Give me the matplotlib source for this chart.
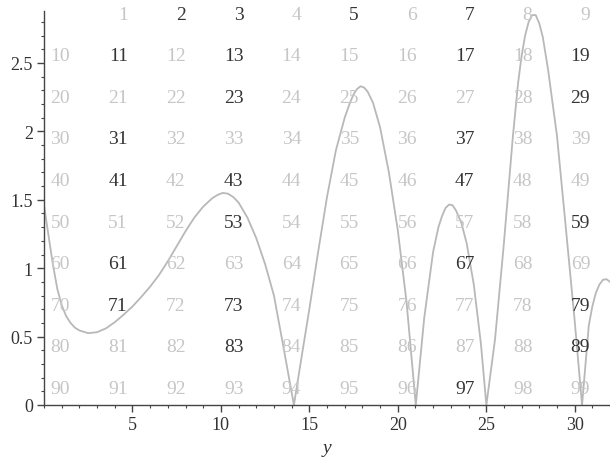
import numpy as np
import matplotlib
matplotlib.use("Agg")
import matplotlib.pyplot as plt
from matplotlib.ticker import MultipleLocator

# |zeta(1/2 + i y)|
y_vals = [0.0, 0.15, 0.3, 0.5, 0.75, 1.0, 1.25, 1.5, 1.75, 2.0, 2.5, 3.0,
          3.5, 4.0, 4.5, 5.0, 5.5, 6.0, 6.5, 7.0, 7.5, 8.0, 8.5, 9.0,
          9.5, 9.8, 10.1, 10.4, 10.7, 11.0, 11.5, 12.0, 12.5, 13.0, 13.5,
          14.13, 14.5, 15.0, 15.5, 16.0, 16.5, 17.0, 17.3, 17.5, 17.7,
          17.9, 18.1, 18.3, 18.6, 19.0, 19.5, 20.0, 20.5, 21.02, 21.5,
          22.0, 22.3, 22.5, 22.7, 22.9, 23.1, 23.3, 23.6, 23.9, 24.3,
          24.7, 25.01, 25.5, 26.0, 26.5, 26.8, 27.0, 27.2, 27.4, 27.6,
          27.8, 28.0, 28.2, 28.5, 29.0, 29.5, 30.0, 30.42, 30.8, 31.0,
          31.2, 31.4, 31.6, 31.8, 32.0]
zeta_abs = [1.46, 1.33, 1.20, 1.03, 0.85, 0.73, 0.65, 0.60, 0.565, 0.545,
            0.525, 0.532, 0.56, 0.605, 0.66, 0.72, 0.79, 0.865, 0.95, 1.05,
            1.16, 1.27, 1.37, 1.45, 1.51, 1.535, 1.55, 1.545, 1.52, 1.48,
            1.37, 1.22, 1.03, 0.80, 0.45, 0.0, 0.30, 0.70, 1.12, 1.52,
            1.86, 2.10, 2.21, 2.27, 2.31, 2.33, 2.32, 2.29, 2.21, 2.03,
            1.70, 1.28, 0.75, 0.0, 0.64, 1.12, 1.30, 1.38, 1.44, 1.465,
            1.46, 1.42, 1.33, 1.18, 0.88, 0.45, 0.0, 0.48, 1.18, 1.95,
            2.35, 2.55, 2.70, 2.80, 2.85, 2.85, 2.79, 2.69, 2.45, 1.97,
            1.30, 0.62, 0.0, 0.58, 0.72, 0.82, 0.88, 0.915, 0.92, 0.90]

# number table laid over the plot
numbers = list(range(1, 100))
primes = [2, 3, 5, 7, 11, 13, 17, 19, 23, 29, 31, 37, 41, 43, 47, 53, 59,
          61, 67, 71, 73, 79, 83, 89, 97]

W, H = 610, 464
fig = plt.figure(figsize=(W / 100, H / 100), dpi=100)
ax = fig.add_axes([44 / W, 58 / H, 566 / W, 394 / H])

ax.plot(y_vals, zeta_abs, color="#b8b8b8", lw=1.3, zorder=2,
        solid_joinstyle="round")

ax.set_xlim(0, 32)
ax.set_ylim(0, 2.88)
ax.xaxis.set_minor_locator(MultipleLocator(1))
ax.yaxis.set_minor_locator(MultipleLocator(0.1))
ax.set_xticks([5, 10, 15, 20, 25, 30])
ax.set_yticks([0, 0.5, 1, 1.5, 2, 2.5])
ax.set_yticklabels(["0", "0.5", "1", "1.5", "2", "2.5"])
for s in ["top", "right"]:
    ax.spines[s].set_visible(False)
for s in ["left", "bottom"]:
    ax.spines[s].set_color("#444444")
    ax.spines[s].set_linewidth(1.0)
ax.tick_params(which="major", direction="out", length=5, width=1,
               color="#444444", labelsize=13, labelcolor="#333333", pad=3)
ax.tick_params(which="minor", direction="out", length=2.5, width=0.8,
               color="#444444")
for lab in ax.get_xticklabels() + ax.get_yticklabels():
    lab.set_family("Liberation Serif")

ax.set_xlabel("y", fontsize=14, family="Liberation Serif", style="italic",
              color="#333333", labelpad=4)

for n in numbers:
    r, c = divmod(n, 10)
    px = 70 + 57.8 * c
    py = 15 + 41.6 * r
    col = "#353535" if n in primes else "#c6c6c6"
    fig.text(px / W, 1 - py / H, str(n), ha="right", va="center",
             fontsize=14, family="Liberation Serif", color=col, zorder=5)

fig.savefig("out.png", dpi=100)
